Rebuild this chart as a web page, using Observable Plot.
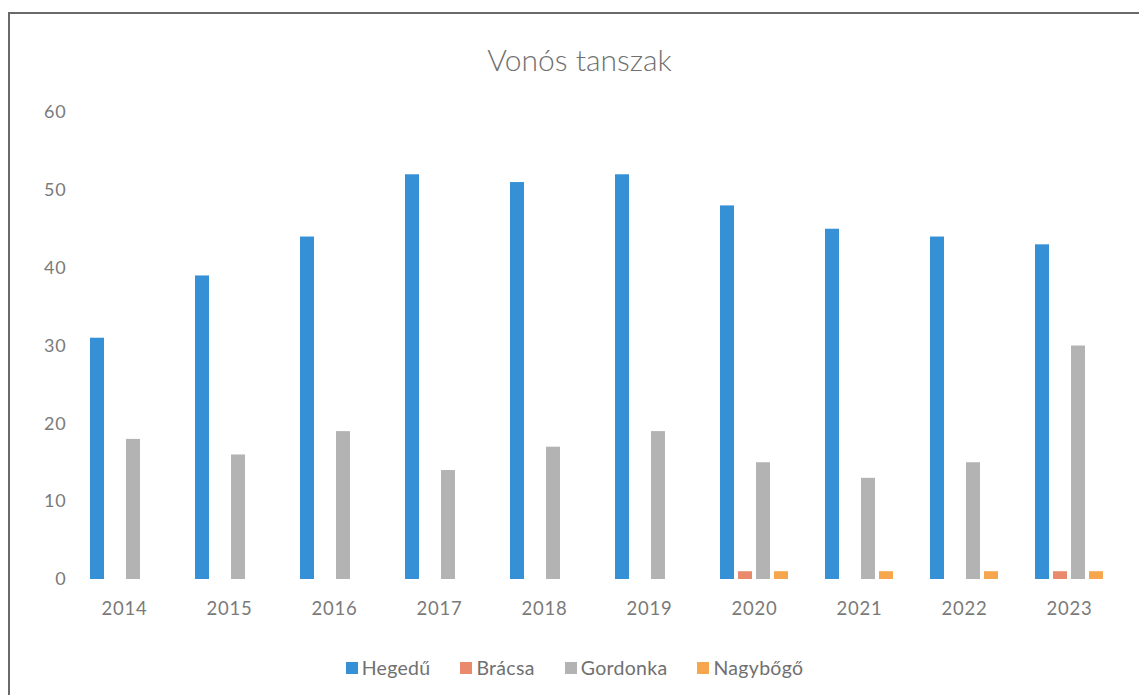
<!DOCTYPE html>
<html>
<head>
<meta charset="utf-8">
<script src="https://cdn.jsdelivr.net/npm/d3@7"></script>
<script src="https://cdn.jsdelivr.net/npm/@observablehq/plot@0.6"></script>
<style>
  body { margin: 0; background: #fff; font-family: Lato, "Open Sans", sans-serif; }
  #wrap { position: relative; width: 1139px; height: 695px; overflow: hidden; }
  #frame { position: absolute; left: 8px; top: 12px; width: 1200px; height: 800px;
           border-top: 2px solid #6a6a6a; border-left: 2px solid #6a6a6a; pointer-events: none; }
  #title { height: 100px; line-height: 1; text-align: center; font-size: 30px; color: #707070;
           padding-top: 44px; box-sizing: border-box; padding-left: 20px; font-weight: 300; }
  #legend { height: 55px; display: flex; justify-content: center; align-items: center;
            gap: 30px; font-size: 19.5px; color: #707070; padding-left: 10px; box-sizing: border-box; letter-spacing: 0.3px; }
  .item { display: flex; align-items: center; gap: 4px; }
  .sw { width: 12px; height: 12px; display: inline-block; }
  svg text { letter-spacing: 0.8px; }
</style>
</head>
<body>
<div id="wrap">
  <div id="frame"></div>
  <div id="title">Vonós tanszak</div>
  <div id="chart"></div>
  <div id="legend"></div>
</div>
<script>
const years = ["2014","2015","2016","2017","2018","2019","2020","2021","2022","2023"];
const seriesNames = ["Hegedű","Brácsa","Gordonka","Nagybőgő"];
const hegedu   = [31, 39, 44, 52, 51, 52, 48, 45, 44, 43];
const bracsa   = [0, 0, 0, 0, 0, 0, 1, 0, 0, 1];
const gordonka = [18, 16, 19, 14, 17, 19, 15, 13, 15, 30];
const nagybogo = [0, 0, 0, 0, 0, 0, 1, 1, 1, 1];
const yTicks = [0, 10, 20, 30, 40, 50, 60];
const colors = ["#3590d6", "#e98a6c", "#b3b3b3", "#f6a64c"];

const seriesValues = [hegedu, bracsa, gordonka, nagybogo];
const data = [];
years.forEach((yr, i) => {
  seriesNames.forEach((s, j) => {
    data.push({year: yr, series: s, value: seriesValues[j][i]});
  });
});

const chart = Plot.plot({
  width: 1139,
  height: 540,
  marginLeft: 69,
  marginRight: 16,
  marginTop: 12,
  marginBottom: 61,
  style: {fontFamily: "Lato, 'Open Sans', sans-serif", fontSize: "18px", color: "#7a7a7a", background: "transparent"},
  fx: {domain: years, paddingInner: 0.3, paddingOuter: 0.15, label: null, axis: null},
  x: {domain: seriesNames, paddingInner: 0.2, paddingOuter: 0.05, axis: null},
  y: {domain: [0, 60], ticks: yTicks, label: null, tickSize: 0, tickPadding: 21},
  color: {domain: seriesNames, range: colors},
  marks: [
    Plot.barY(data, {fx: "year", x: "series", y: "value", fill: "series"}),
    Plot.axisFx({anchor: "bottom", tickSize: 0, tickPadding: 22, label: null, fontSize: 18.5})
  ]
});
document.getElementById("chart").appendChild(chart);

const legend = document.getElementById("legend");
seriesNames.forEach((s, i) => {
  const it = document.createElement("span");
  it.className = "item";
  const sw = document.createElement("span");
  sw.className = "sw";
  sw.style.background = colors[i];
  it.appendChild(sw);
  it.appendChild(document.createTextNode(s));
  legend.appendChild(it);
});
</script>
</body>
</html>
